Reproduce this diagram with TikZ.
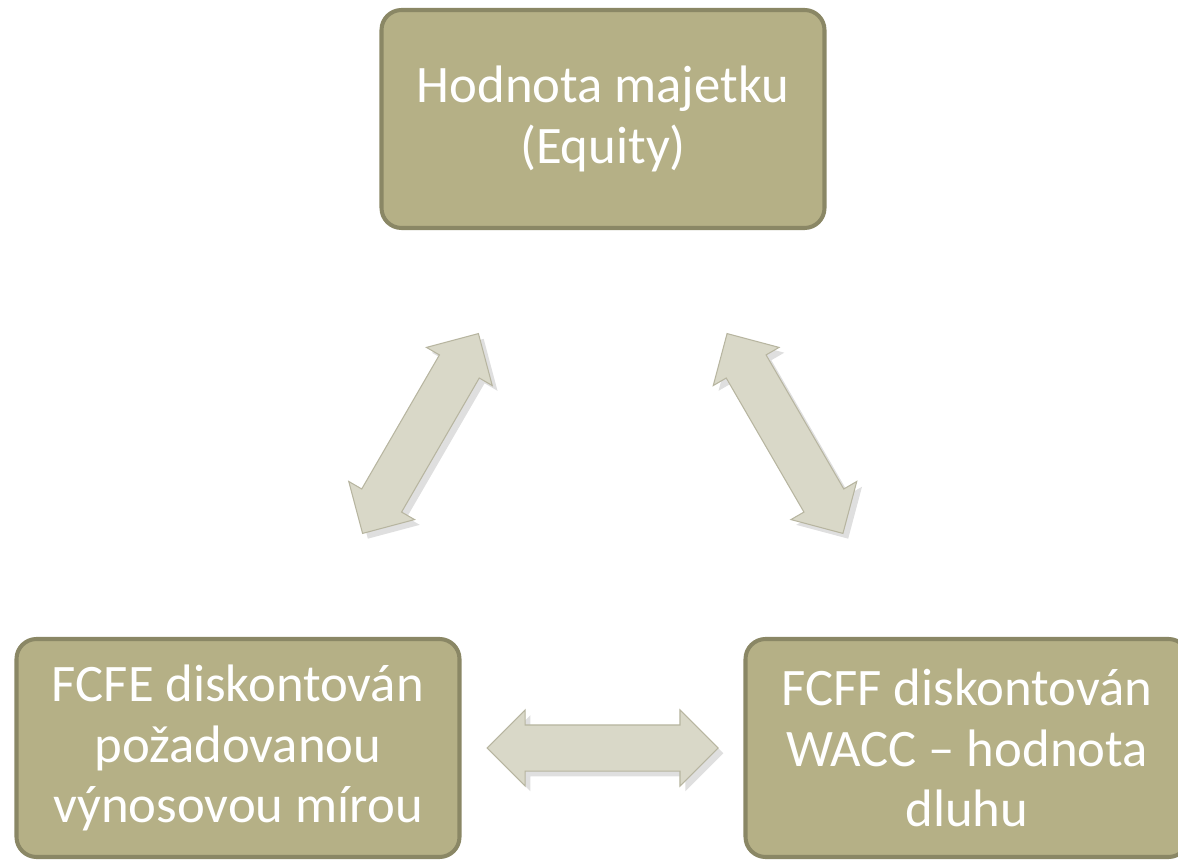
\documentclass[tikz,border=0pt]{standalone}
\usepackage{fontspec}
\setmainfont{Carlito}
\usepackage{tikz}
\usetikzlibrary{shapes.arrows, shadows, calc}
\definecolor{box_fill}{HTML}{B5B086}
\definecolor{box_edge}{HTML}{8A8765}
\definecolor{arrow_fill}{HTML}{D9D8C8}
\definecolor{arrow_edge}{HTML}{B7B5A0}

\tikzset{
    valbox/.style={rectangle, rounded corners=0.4cm, fill=box_fill, draw=box_edge,
        line width=2.3pt, text=white, align=center, minimum width=8.86cm,
        minimum height=4.36cm, font=\fontsize{30}{34.5}\selectfont},
    linkarrow/.style={double arrow, double arrow head extend=0.3cm,
        double arrow tip angle=90, minimum height=4.62cm,
        inner xsep=0pt, inner ysep=0.45cm, text height=0pt, text depth=0pt,
        fill=arrow_fill, draw=arrow_edge, line width=0.6pt,
        drop shadow={opacity=0.25, shadow xshift=3pt, shadow yshift=-3pt}}
}

\begin{document}
\begin{tikzpicture}
                \useasboundingbox (0,0) rectangle (23.56,17.2);
                \node[valbox] (equity) at (12.06,14.82) {Hodnota majetku\\(Equity)};
                \node[valbox] (fcfe) at (4.76,2.24) {FCFE diskontován\\požadovanou\\výnosovou mírou};
                \node[valbox] (fcff) at (19.34,2.24) {FCFF diskontován\\WACC -- hodnota\\dluhu};
                % double arrows between the three values
                \node[linkarrow, rotate=59.9] (arrowleft) at ($(fcfe)!0.5!(equity)$) {};
                \node[linkarrow, rotate=-59.9] (arrowright) at ($(equity)!0.5!(fcff)$) {};
                \node[linkarrow] (arrowbottom) at ($(fcfe)!0.5!(fcff)$) {};
            \end{tikzpicture}
\end{document}
